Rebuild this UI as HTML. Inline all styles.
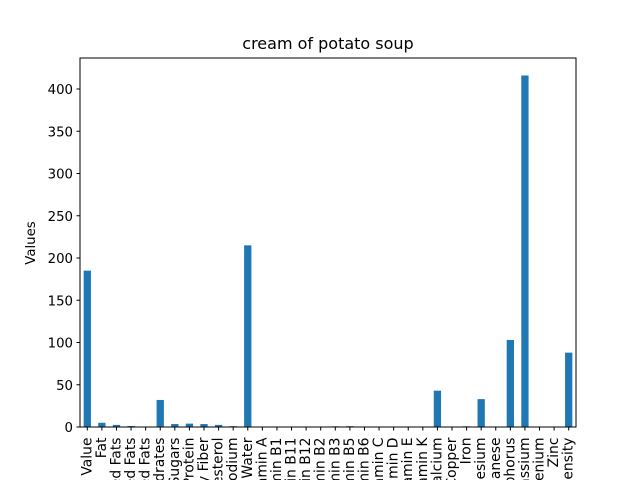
<!DOCTYPE html>
<html><head><meta charset="utf-8"><style>body{margin:0;background:#fff;overflow:hidden}svg{display:block}text{font-family:"DejaVu Sans","Liberation Sans",sans-serif;fill:#000}</style></head>
<body>
<svg id="chart" width="640" height="480" viewBox="0 0 640 480" xmlns="http://www.w3.org/2000/svg">
<text x="328" y="49" font-size="16" text-anchor="middle">cream of potato soup</text>
<text transform="translate(35,243) rotate(-90)" font-size="13.3" text-anchor="middle">Values</text>
<g id="bars"></g>
<g id="yaxis"></g>
<g id="xaxis"></g>
<rect x="80" y="58" width="496" height="369" fill="none" stroke="#000" stroke-width="1"/>
</svg>
<script>
const categories = ["Caloric Value","Fat","Saturated Fats","Monounsaturated Fats","Polyunsaturated Fats","Carbohydrates","Sugars","Protein","Dietary Fiber","Cholesterol","Sodium","Water","Vitamin A","Vitamin B1","Vitamin B11","Vitamin B12","Vitamin B2","Vitamin B3","Vitamin B5","Vitamin B6","Vitamin C","Vitamin D","Vitamin E","Vitamin K","Calcium","Copper","Iron","Magnesium","Manganese","Phosphorus","Potassium","Selenium","Zinc","Nutrition Density"];
const values = [185,5,2.5,1.2,0.5,32,3.5,4,3.5,2.5,1,215,0,0,0,0,0,0.8,1,0,0,0,0,0,43,0.1,0.8,33,0.2,103,416,0,0.5,88];
const yTicks = [0,50,100,150,200,250,300,350,400];
const NS="http://www.w3.org/2000/svg";
const L=80,R=576,T=58,B=427,maxV=436.7;
const step=(R-L)/categories.length;
const x=i=>L+step*(i+0.5);
const y=v=>B-(v/maxV)*(B-T);
const bars=document.getElementById('bars'),xa=document.getElementById('xaxis'),ya=document.getElementById('yaxis');
categories.forEach((c,i)=>{
 const r=document.createElementNS(NS,'rect');
 
 
 const w=step*0.5;
 r.setAttribute('x',x(i)-w/2);r.setAttribute('width',w);
 r.setAttribute('y',y(values[i]));r.setAttribute('height',B-y(values[i]));
 r.setAttribute('fill','#1f77b4');bars.appendChild(r);
 const t=document.createElementNS(NS,'line');
 
 
 t.setAttribute('x1',x(i));t.setAttribute('x2',x(i));t.setAttribute('y1',B);t.setAttribute('y2',B+3.5);t.setAttribute('stroke','#000');xa.appendChild(t);
 const lb=document.createElementNS(NS,'text');
 
 
 lb.setAttribute('font-size','13.9');lb.setAttribute('text-anchor','end');lb.setAttribute('dominant-baseline','central');
 lb.setAttribute('transform','translate('+x(i)+','+(B+10.5)+') rotate(-90)');
 lb.textContent=c;xa.appendChild(lb);
});
yTicks.forEach(v=>{
 const t=document.createElementNS(NS,'line');
 
 
 t.setAttribute('x1',L-3.5);t.setAttribute('x2',L);t.setAttribute('y1',y(v));t.setAttribute('y2',y(v));t.setAttribute('stroke','#000');ya.appendChild(t);
 const lb=document.createElementNS(NS,'text');
 
 
 lb.setAttribute('font-size','13.3');lb.setAttribute('text-anchor','end');
 lb.setAttribute('x',L-7);lb.setAttribute('y',y(v)+5);lb.textContent=v;ya.appendChild(lb);
});
</script>
</body></html>
